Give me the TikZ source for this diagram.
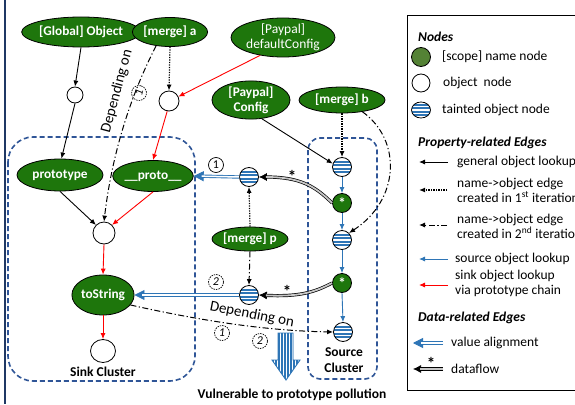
\documentclass[tikz,border=0pt]{standalone}
\usepackage{fontspec}
\setmainfont{Carlito}
\usetikzlibrary{arrows.meta,shapes.geometric,calc}
\definecolor{ngreen}{RGB}{30,118,12}
\definecolor{lgreen}{RGB}{84,130,53}
\definecolor{sblue}{RGB}{46,117,182}
\definecolor{cblue}{RGB}{47,85,151}
\definecolor{frameblue}{RGB}{31,56,100}
\tikzset{
  namenode/.style={ellipse, draw=black, line width=0.8pt, fill=ngreen, text=white,
    font=\bfseries\fontsize{13.3}{15}\selectfont, inner sep=0pt, align=center},
  objnode/.style={circle, draw=black, line width=0.8pt, fill=white, inner sep=0pt},
  tainted/.style={circle, draw=black, line width=0.8pt, fill=white, minimum size=19pt, inner sep=0pt,
    path picture={\foreach \k in {-5.4,-1.8,1.8,5.4}{\fill[sblue] ($(path picture bounding box.center)+(-12pt,\k pt-1pt)$) rectangle ++(24pt,2pt);}}},
  starnode/.style={circle, draw=black, line width=0.8pt, fill=ngreen, minimum size=19pt, inner sep=0pt,
    text=white, font=\bfseries\fontsize{15}{15}\selectfont},
  numc/.style={circle, draw=black, line width=0.7pt, minimum size=15pt, inner sep=0pt, font=\fontsize{12}{12}\selectfont},
  numd/.style={numc, dash pattern=on 1.5pt off 1pt, font=\itshape\fontsize{12}{12}\selectfont},
  cluster/.style={draw=cblue, line width=1.6pt, dash pattern=on 5pt off 3pt},
  blk/.style={draw=black, line width=0.9pt, -{Latex[length=6pt,width=5pt]}},
  redarr/.style={draw=red, line width=0.9pt, -{Latex[length=6pt,width=5pt]}},
  bluearr/.style={draw=sblue, line width=0.9pt, -{Latex[length=6pt,width=5pt]}},
  dotarr/.style={draw=black, line width=1.2pt, dash pattern=on 1.2pt off 1.3pt, -{Latex[length=6pt,width=5pt]}},
  dasharr/.style={draw=black, line width=1pt, dash pattern=on 6pt off 2.5pt on 1.2pt off 2.5pt, -{Latex[length=6pt,width=5pt]}},
  valtip/.style={draw=sblue, line width=0.8pt, -{Triangle[length=10pt,width=10pt]}},
  valline/.style={draw=sblue, double=white, double distance=1.5pt, line width=0.9pt, shorten >=8pt},
  flowtip/.style={draw=black, line width=0.7pt, -{Latex[length=8pt,width=8pt]}},
  flowline/.style={draw=black, double=gray!45, double distance=1.8pt, line width=0.7pt, shorten >=7pt},
  startext/.style={inner sep=0pt, font=\bfseries\fontsize{17}{17}\selectfont},
  lgtext/.style={anchor=west, inner sep=0pt, font=\fontsize{13.5}{15}\selectfont, align=left},
  lghead/.style={anchor=west, inner sep=0pt, font=\bfseries\itshape\fontsize{13.5}{15}\selectfont},
  dep/.style={inner sep=0pt, font=\fontsize{15}{15}\selectfont},
  captext/.style={inner sep=0pt, font=\bfseries\fontsize{13.5}{15.5}\selectfont, align=center}
}
\begin{document}
\begin{tikzpicture}[x=1pt,y=-1pt]
\useasboundingbox (0,0) rectangle (575,404);
\clip (0,0) rectangle (575,404);
\fill[white] (0,0) rectangle (575,404);
\draw[frameblue, line width=2pt] (5,0) -- (5,404);

% clusters
\draw[cluster, rounded corners=25pt] (8,137) rectangle (195,381);
\draw[cluster, rounded corners=12pt] (308,138) rectangle (377,379);
\node[captext] (sinkcap) at (103,372) {Sink Cluster};
\node[captext] (srccap) at (344,360) {Source\\Cluster};

% name nodes
\node[namenode, minimum width=92pt, minimum height=30pt] (GO) at (81,32) {[Global] Object};
\node[namenode, minimum width=74pt, minimum height=29pt] (MA) at (170,32) {[merge] a};
\node[namenode, minimum width=90pt, minimum height=39pt, font=\fontsize{13.5}{15}\selectfont] (PD) at (283,37.5) {[Paypal]\\defaultConfig};
\node[namenode, minimum width=78pt, minimum height=28pt] (PC) at (251,100) {[Paypal]\\Config};
\node[namenode, minimum width=86pt, minimum height=26pt] (MB) at (342,100) {[merge] b};
\node[namenode, minimum width=86pt, minimum height=32pt] (PROTO) at (60,175) {prototype};
\node[namenode, minimum width=77pt, minimum height=31pt] (UPROTO) at (153,176) {\_\_proto\_\_};
\node[namenode, minimum width=58pt, minimum height=40pt] (TS) at (103,295) {toString};
\node[namenode, minimum width=68pt, minimum height=24pt] (MP) at (250,239) {[merge] p};

% object nodes
\node[objnode, minimum size=16pt] (C1) at (75,95) {};
\node[objnode, minimum size=20pt] (C2) at (169,101) {};
\node[objnode, minimum size=22pt] (CM) at (104,233) {};
\node[objnode, ellipse, minimum width=25pt, minimum height=23pt] (CB) at (103,351) {};

% tainted / star nodes
\node[tainted] (T1) at (249,177) {};
\node[tainted] (T2) at (249,295) {};
\node[tainted] (TA) at (342,167) {};
\node[starnode] (S1) at (342,203) {\raisebox{-4pt}{*}};
\node[tainted] (TB) at (342,240) {};
\node[starnode] (S2) at (342,283) {\raisebox{-4pt}{*}};
\node[tainted] (TC) at (343,332) {};

% general lookups
\draw[blk] (GO.south) -- (C1.north);
\draw[blk] (C1.south) -- (PROTO.85);
\draw[blk] (PROTO.south) -- (CM.135);
\draw[blk] (PC.-60) -- (TA.160);

% sink lookups
\draw[redarr] (PD.218) -- (C2.25);
\draw[redarr] (C2.260) -- (UPROTO.north);
\draw[redarr] (UPROTO.south) -- (CM.45);
\draw[redarr] (CM.south) -- (TS.north);
\draw[redarr] (TS.south) -- (CB.north);

% name->object 1st
\draw[dotarr] (MA.south) -- (C2.north);
\draw[dotarr] (MB.south) -- (TA.north);
\draw[dotarr] (MP.north) -- (T1.south);

% name->object 2nd
\draw[dasharr] (MP.south) -- (T2.north);
\draw[dasharr] (MB.-30) .. controls (402,140) and (400,200) .. (TB.45);
\draw[dasharr] (MA.225) .. controls (124,108) and (110,170) .. (CM.north);
\draw[dasharr] (TS.-20) .. controls (220,325) and (280,331) .. (TC.west);

% source lookups
\draw[bluearr] (TA.south) -- (S1.north);
\draw[bluearr] (S1.south) -- (TB.north);
\draw[bluearr] (TB.south) -- (S2.north);
\draw[bluearr] (S2.south) -- (TC.north);

% value alignment
\draw[valtip] (T1.west) -- (UPROTO.east);
\draw[valline] (T1.west) -- (UPROTO.east);
\draw[valtip] (T2.west) -- (TS.east);
\draw[valline] (T2.west) -- (TS.east);

% dataflow
\draw[flowtip] (S1.west) .. controls (315,186) and (300,177) .. (T1.east);
\draw[flowline] (S1.west) .. controls (315,186) and (300,177) .. (T1.east);
\draw[flowtip] (S2.west) .. controls (315,292) and (300,297) .. (T2.east);
\draw[flowline] (S2.west) .. controls (315,292) and (300,297) .. (T2.east);
\node[startext] (st1) at (292,176) {*};
\node[startext] (st2) at (287,291) {*};

% labels
\node[numc] (n1a) at (216,165) {1};
\node[numd] (n2a) at (216,282) {2};
\node[dep, rotate=75] (dep1) at (117,91) {Depending on};
\node[numd, rotate=75] (n1b) at (139,93) {1};
\node[dep, rotate=-11] (dep2) at (252,315) {Depending on};
\node[numd] (n1c) at (222,333) {1};
\node[numd] (n2c) at (260,341) {2};

% vulnerable arrow
\begin{scope}
\clip (278,333) -- (293,333) -- (293,360) -- (300,360) -- (286,380) -- (272,360) -- (278,360) -- cycle;
\fill[white] (270,330) rectangle (302,382);
\foreach \xx in {272,275,...,300} {\fill[sblue] (\xx,330) rectangle (\xx+1.5,382);}
\end{scope}
\draw[sblue, line width=0.9pt, line join=miter] (278,333) -- (293,333) -- (293,360) -- (300,360) -- (286,380) -- (272,360) -- (278,360) -- cycle;
\node[captext] (vuln) at (292,395) {Vulnerable to prototype pollution};

% legend
\draw[black, line width=1pt] (407,16) rectangle (600,390);
\node[lghead] (h1) at (418,37) {Nodes};
\node[circle, draw=black, line width=0.8pt, fill=lgreen, minimum size=19pt, inner sep=0pt] (lg1) at (421,57) {};
\node[lgtext] (lt1) at (442,57) {[scope] name node};
\node[objnode, minimum size=18pt] (lg2) at (421,83) {};
\node[lgtext] (lt2) at (443,83) {object\ \ node};
\node[tainted, ellipse, minimum width=19pt, minimum height=16pt] (lg3) at (421,110) {};
\node[lgtext] (lt3) at (442,110) {tainted object node};
\node[lghead] (h2) at (418,143) {Property-related Edges};
\coordinate (a1s) at (448,162); \coordinate (a1e) at (419,162);
\draw[blk] (a1s) -- (a1e);
\node[lgtext] (lt4) at (457,162) {general object lookup};
\coordinate (a2s) at (447,190); \coordinate (a2e) at (419,190);
\draw[dotarr] (a2s) -- (a2e);
\node[lgtext] (lt5) at (457,190.5) {name->object edge\\created in 1\textsuperscript{st} iteration};
\coordinate (a3s) at (447,225); \coordinate (a3e) at (419,225);
\draw[dasharr] (a3s) -- (a3e);
\node[lgtext] (lt6) at (457,226.5) {name->object edge\\created in 2\textsuperscript{nd} iteration};
\coordinate (a4s) at (448,259); \coordinate (a4e) at (419,259);
\draw[bluearr] (a4s) -- (a4e);
\node[lgtext] (lt7) at (455,259) {source object lookup};
\coordinate (a5s) at (448,285); \coordinate (a5e) at (419,285);
\draw[redarr] (a5s) -- (a5e);
\node[lgtext] (lt8) at (455,283.5) {sink object lookup\\via prototype chain};
\node[lghead] (h3) at (418,318) {Data-related Edges};
\coordinate (a6s) at (443,343); \coordinate (a6e) at (413,343);
\draw[valtip] (a6s) -- (a6e);
\draw[valline] (a6s) -- (a6e);
\node[lgtext] (lt9) at (451,343) {value alignment};
\coordinate (a7s) at (443,369); \coordinate (a7e) at (413,369);
\draw[flowtip] (a7s) -- (a7e);
\draw[flowline] (a7s) -- (a7e);
\node[startext] (st3) at (431,363) {*};
\node[lgtext] (lt10) at (451,369) {dataflow};
\end{tikzpicture}
\end{document}
